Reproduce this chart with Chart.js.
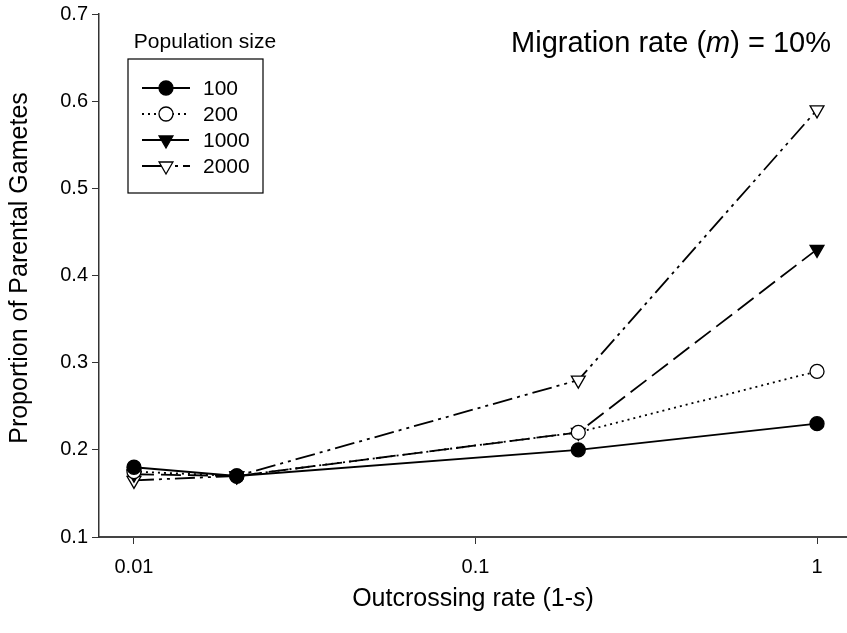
<!DOCTYPE html>
<html lang="en">
<head>
    <meta charset="UTF-8">
    <title>Parental gametes vs outcrossing rate</title>
    <script src="https://cdn.jsdelivr.net/npm/chart.js"></script>
    <style>
        html, body { margin: 0; padding: 0; background: #fff; }
        #wrap { width: 847px; height: 633px; position: relative; }
    </style>
</head>
<body>
    <div id="wrap"><canvas id="chart"></canvas></div>
    <script>
        // outcrossing rates (1-s) on the x axis
        var outcrossing = [0.01, 0.02, 0.2, 1];

        // proportion of parental gametes per population size
        var pop100  = [0.18, 0.17, 0.20, 0.23];
        var pop200  = [0.175, 0.17, 0.22, 0.29];
        var pop1000 = [0.172, 0.17, 0.22, 0.43];
        var pop2000 = [0.165, 0.17, 0.28, 0.59];

        var seriesNames = ['100', '200', '1000', '2000'];
        var xTickValues = [0.01, 0.1, 1];
        var yTickValues = [0.1, 0.2, 0.3, 0.4, 0.5, 0.6, 0.7];

        var FONT = '"Liberation Sans", Arial, sans-serif';

        function toPoints(vals) {
            return outcrossing.map(function (x, i) { return { x: x, y: vals[i] }; });
        }

        var styles = [
            { dash: [], style: 'circle', fill: '#000', rot: 0 },
            { dash: [2, 4], style: 'circle', fill: '#fff', rot: 0 },
            { dash: [20, 7], style: 'triangle', fill: '#000', rot: 180 },
            { dash: [20, 5, 3, 5, 3, 5], style: 'triangle', fill: '#fff', rot: 180 }
        ];

        var allSeries = [pop100, pop200, pop1000, pop2000];

        var datasets = allSeries.map(function (vals, i) {
            var s = styles[i];
            return {
                label: seriesNames[i],
                data: toPoints(vals),
                borderColor: '#000',
                borderWidth: 1.8,
                borderDash: s.dash,
                pointStyle: s.style,
                pointRotation: s.rot,
                pointRadius: s.style === 'circle' ? 7 : 8,
                pointBackgroundColor: s.fill,
                pointBorderColor: '#000',
                pointBorderWidth: 1.3,
                tension: 0,
                clip: false
            };
        });

        // marker used in the legend box
        function drawMarker(ctx, s, x, y) {
            ctx.save();
            ctx.setLineDash([]);
            ctx.lineWidth = 1.3;
            ctx.strokeStyle = '#000';
            ctx.fillStyle = s.fill;
            ctx.beginPath();
            if (s.style === 'circle') {
                ctx.arc(x, y, 7, 0, Math.PI * 2);
            } else {
                var r = 8;
                ctx.moveTo(x, y + r);
                ctx.lineTo(x - r * 0.866, y - r * 0.5);
                ctx.lineTo(x + r * 0.866, y - r * 0.5);
                ctx.closePath();
            }
            ctx.fill();
            ctx.stroke();
            ctx.restore();
        }

        // text made of plain and italic pieces
        function drawRich(ctx, parts, size, x, y, align) {
            var widths = parts.map(function (p) {
                ctx.font = (p.it ? 'italic ' : '') + size + 'px ' + FONT;
                return ctx.measureText(p.t).width;
            });
            var total = widths.reduce(function (a, b) { return a + b; }, 0);
            var cx = align === 'center' ? x - total / 2 : (align === 'right' ? x - total : x);
            ctx.textAlign = 'left';
            ctx.textBaseline = 'middle';
            parts.forEach(function (p, i) {
                ctx.font = (p.it ? 'italic ' : '') + size + 'px ' + FONT;
                ctx.fillText(p.t, cx, y);
                cx += widths[i];
            });
        }

        var decorations = {
            id: 'decorations',
            afterDraw: function (chart) {
                var ctx = chart.ctx;
                ctx.save();
                ctx.fillStyle = '#000';

                // annotation in the top right
                drawRich(ctx, [{ t: 'Migration rate (' }, { t: 'm', it: true }, { t: ') = 10%' }], 29, 831, 44, 'right');

                // axis titles
                drawRich(ctx, [{ t: 'Outcrossing rate (1-' }, { t: 's', it: true }, { t: ')' }], 25, 473, 599, 'center');
                ctx.save();
                ctx.translate(20, 268);
                ctx.rotate(-Math.PI / 2);
                drawRich(ctx, [{ t: 'Proportion of Parental Gametes' }], 25, 0, 0, 'center');
                ctx.restore();

                // legend
                ctx.font = '21px ' + FONT;
                ctx.textAlign = 'center';
                ctx.textBaseline = 'middle';
                ctx.fillText('Population size', 205, 42);
                ctx.lineWidth = 1.2;
                ctx.strokeStyle = '#000';
                ctx.strokeRect(128, 59, 135, 134);
                var rowY = [88, 114, 140, 166];
                chart.data.datasets.forEach(function (ds, i) {
                    var y = rowY[i];
                    ctx.save();
                    ctx.lineWidth = 1.8;
                    ctx.setLineDash(ds.borderDash);
                    ctx.beginPath();
                    ctx.moveTo(142, y);
                    ctx.lineTo(190, y);
                    ctx.stroke();
                    ctx.restore();
                    drawMarker(ctx, styles[i], 166, y);
                    ctx.font = '21px ' + FONT;
                    ctx.textAlign = 'left';
                    ctx.textBaseline = 'middle';
                    ctx.fillText(ds.label, 203, y + 1);
                });
                ctx.restore();
            }
        };

        new Chart(document.getElementById('chart'), {
            type: 'line',
            data: { datasets: datasets },
            plugins: [decorations],
            options: {
                responsive: true,
                maintainAspectRatio: false,
                animation: false,
                devicePixelRatio: 1,
                layout: { autoPadding: false, padding: { top: 14, right: 0, left: 0, bottom: 0 } },
                plugins: { legend: { display: false }, tooltip: { enabled: false } },
                scales: {
                    x: {
                        type: 'logarithmic',
                        min: 0.0079,
                        max: 1.224,
                        afterBuildTicks: function (scale) {
                            scale.ticks = xTickValues.map(function (v) { return { value: v }; });
                        },
                        afterFit: function (scale) {
                            scale.height = 96;
                            scale.paddingLeft = 0;
                            scale.paddingRight = 0;
                        },
                        ticks: {
                            autoSkip: false,
                            maxRotation: 0,
                            padding: 11,
                            color: '#000',
                            font: { family: FONT, size: 20 },
                            callback: function (v) { return String(v); }
                        },
                        grid: { drawOnChartArea: false, drawTicks: true, tickLength: 7, color: '#333', lineWidth: 1 },
                        border: { display: true, color: '#444', width: 2 }
                    },
                    y: {
                        type: 'linear',
                        min: 0.1,
                        max: 0.7,
                        afterBuildTicks: function (scale) {
                            scale.ticks = yTickValues.map(function (v) { return { value: v }; });
                        },
                        afterFit: function (scale) {
                            scale.width = 99;
                            scale.paddingTop = 0;
                            scale.paddingBottom = 0;
                        },
                        ticks: {
                            padding: 4,
                            color: '#000',
                            font: { family: FONT, size: 20 },
                            callback: function (v) { return v.toFixed(1); }
                        },
                        grid: { drawOnChartArea: false, drawTicks: true, tickLength: 7, color: '#333', lineWidth: 1 },
                        border: { display: true, color: '#333', width: 1.5 }
                    }
                }
            }
        });
    </script>
</body>
</html>
